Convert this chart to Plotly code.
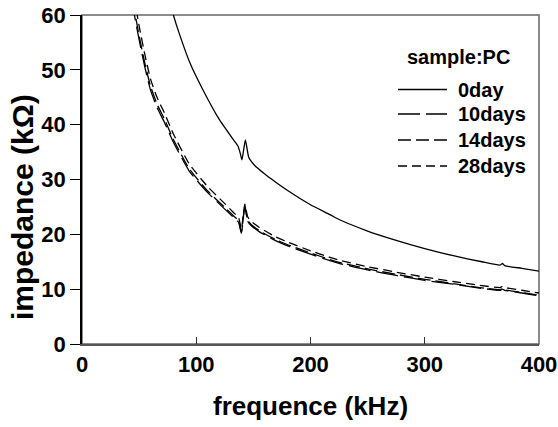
import plotly.graph_objects as go

# ---- data ----
freq_0day = [70, 75, 80, 85, 95, 105, 120, 132, 136.5, 138.5, 140, 143, 146, 151, 160, 169,
             180, 200, 217, 225, 250, 275, 300, 325, 350, 366, 368, 370, 385, 400]
z_0day = [69, 64, 60, 56.7, 51, 46.7, 41, 37.4, 36.1, 34.8, 33.6, 37.2, 34.0, 32.6, 31.0, 29.6,
          28.0, 25.4, 23.6, 22.7, 20.6, 18.9, 17.4, 16.1, 15.0, 14.4, 14.7, 14.3, 13.8, 13.3]

freq_low = [40, 45, 50, 55, 60, 66, 72, 80, 94, 110, 125, 133, 137, 139.5, 142.5, 145, 148,
            155, 169, 180, 200, 217, 225, 250, 275, 300, 325, 348, 366, 368, 370, 385, 400]
z_10days = [68, 61, 55.5, 50.5, 46.3, 43, 40.5, 36.8, 31.5, 27.6, 24.6, 23.0, 22.2, 20.2, 25.1,
            22.4, 21.6, 20.5, 18.9, 17.9, 16.4, 15.2, 14.7, 13.5, 12.5, 11.6, 10.9, 10.2, 9.8,
            10.0, 9.8, 9.3, 8.8]
z_14days = [69, 62, 56.2, 51.2, 47.0, 43.6, 41.1, 37.3, 31.9, 27.9, 24.9, 23.3, 22.5, 20.4, 25.3,
            22.6, 21.8, 20.7, 19.1, 18.1, 16.6, 15.4, 14.9, 13.7, 12.7, 11.8, 11.0, 10.3, 9.9,
            10.1, 9.9, 9.4, 8.9]
z_28days = [71, 64, 58, 52.8, 48.3, 44.8, 42.2, 38.3, 32.8, 28.7, 25.6, 23.9, 23.1, 21.0, 25.5,
            23.2, 22.4, 21.3, 19.6, 18.6, 17.0, 15.8, 15.3, 14.1, 13.1, 12.2, 11.4, 10.7, 10.3,
            10.5, 10.3, 9.8, 9.3]

series_names = ["0day", "10days", "14days", "28days"]
x_ticks = [0, 100, 200, 300, 400]
y_ticks = [0, 10, 20, 30, 40, 50, 60]

# ---- styling ----
W, H = 558, 427
L, R, T, B = 82, 19, 15, 83
FONT = "Liberation Sans, Arial, sans-serif"
dashes = ["solid", "22px,6px", "13px,5px", "9px,5px"]

def px_to_paper(px, py):
    return (px - L) / (W - L - R), 1 - (py - T) / (H - T - B)

fig = go.Figure()
all_x = [freq_0day, freq_low, freq_low, freq_low]
all_y = [z_0day, z_10days, z_14days, z_28days]
for name, xs, ys, d in zip(series_names, all_x, all_y, dashes):
    fig.add_trace(go.Scatter(x=xs, y=ys, mode="lines", name=name, showlegend=False,
                             line=dict(color="black", width=1.3, dash=d, shape="spline", smoothing=0.5)))

fig.update_layout(
    width=W, height=H, margin=dict(l=L, r=R, t=T, b=B, autoexpand=False),
    plot_bgcolor="white", paper_bgcolor="white",
    font=dict(family=FONT, color="black"),
)
fig.update_xaxes(range=[0, 400], tickvals=x_ticks, ticks="inside", ticklen=7, tickwidth=1.2,
                 tickcolor="#333", showgrid=False, zeroline=False, showline=True, linecolor="#555",
                 linewidth=1.5, automargin=False, tickfont=dict(family=FONT, size=22, weight="bold"))
fig.update_yaxes(range=[0, 60], tickvals=y_ticks, ticks="outside", ticklen=10, tickwidth=1.2,
                 tickcolor="black", showgrid=False, zeroline=False, showline=True, linecolor="black",
                 linewidth=1.5, automargin=False, tickfont=dict(family=FONT, size=22, weight="bold"))

shapes = [dict(type="rect", xref="paper", yref="paper", x0=0, y0=0, x1=1, y1=1,
               line=dict(color="#666", width=1.5), layer="below")]
annotations = []
# axis titles
ax, ay = px_to_paper(310.6, 406)
annotations.append(dict(text="frequence (kHz)", xref="paper", yref="paper", x=ax, y=ay,
                        showarrow=False, xanchor="center", yanchor="middle",
                        font=dict(family=FONT, size=26, weight="bold")))
ax, ay = px_to_paper(22, 207)
annotations.append(dict(text="impedance (kΩ)", xref="paper", yref="paper", x=ax, y=ay,
                        showarrow=False, xanchor="center", yanchor="middle", textangle=-90,
                        font=dict(family=FONT, size=30, weight="bold")))
# legend
ax, ay = px_to_paper(405, 57)
annotations.append(dict(text="sample:PC", xref="paper", yref="paper", x=ax, y=ay,
                        showarrow=False, xanchor="left", yanchor="middle",
                        font=dict(family=FONT, size=20, weight="bold")))
rows = [89.5, 114, 140, 166]
for name, d, ry in zip(series_names, dashes, rows):
    x0, y0 = px_to_paper(398, ry)
    x1, _ = px_to_paper(447, ry)
    shapes.append(dict(type="line", xref="paper", yref="paper", x0=x0, x1=x1, y0=y0, y1=y0,
                       line=dict(color="black", width=1.3, dash=d)))
    tx, _ = px_to_paper(456, ry)
    annotations.append(dict(text=name, xref="paper", yref="paper", x=tx, y=y0,
                            showarrow=False, xanchor="left", yanchor="middle",
                            font=dict(family=FONT, size=20, weight="bold")))

fig.update_layout(shapes=shapes, annotations=annotations)
fig.write_html("out.html")
